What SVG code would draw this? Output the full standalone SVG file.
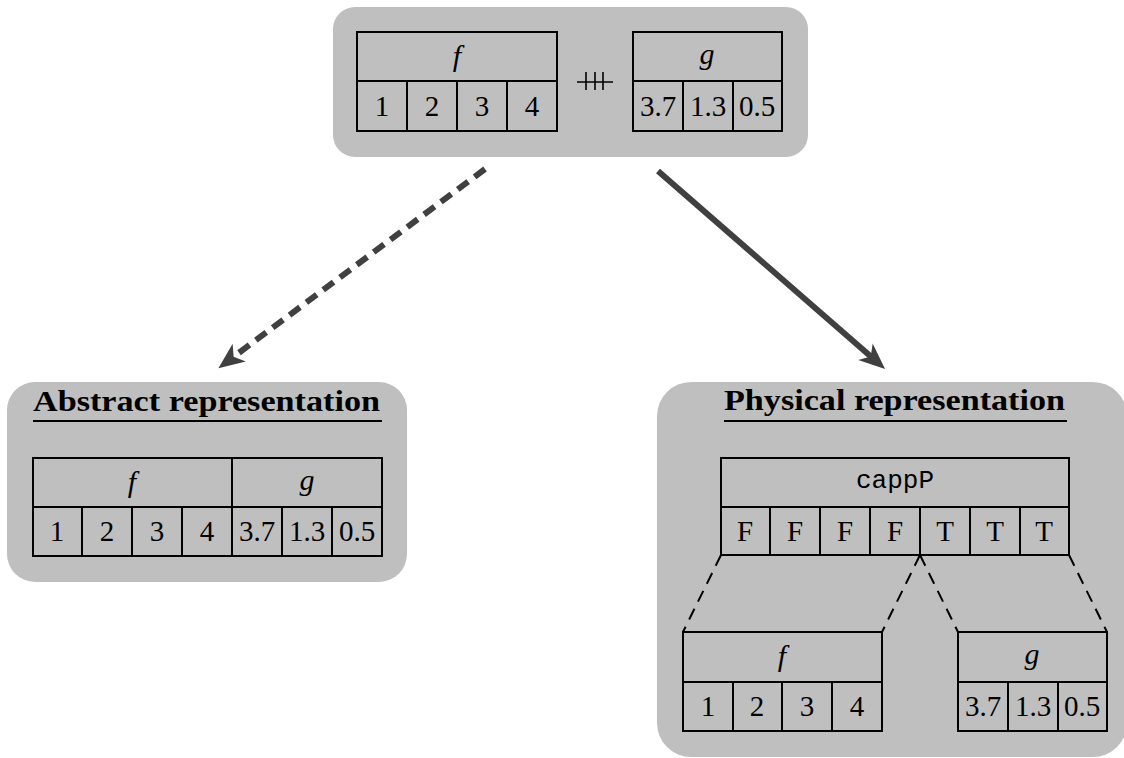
<svg xmlns="http://www.w3.org/2000/svg" width="1124" height="758" viewBox="0 0 1124 758">
<style>
.panel{fill:#bfbfbf;stroke:none}
.cell{fill:none;stroke:#000;stroke-width:2}
.t{font-family:"Liberation Serif","Times New Roman",serif;font-size:29px;fill:#000;text-anchor:middle}
.i{font-family:"Liberation Serif","Times New Roman",serif;font-style:italic;font-size:30px;fill:#000;text-anchor:middle}
.m{font-family:"Liberation Mono","Courier New",monospace;font-size:26px;fill:#000;text-anchor:middle}
.title{font-family:"Liberation Serif","Times New Roman",serif;font-weight:bold;font-size:30px;fill:#000}
.ul{stroke:#000;stroke-width:2}
.arrow{fill:none;stroke:#404040;stroke-width:6}
.dash{fill:none;stroke:#000;stroke-width:2;stroke-dasharray:12 8}
</style>
<defs>
<marker id="ah" markerUnits="userSpaceOnUse" orient="auto" overflow="visible" refX="0" refY="0" markerWidth="40" markerHeight="40">
<path d="M 12 0 L -14 -11 L -7 0 L -14 11 Z" fill="#404040"/>
</marker>
</defs>

<g id="concat">
<rect class="panel" x="333" y="7" width="475" height="150" rx="22"/>
<g id="concat-f">
<rect class="cell" x="357" y="32" width="200" height="99"/>
<line class="cell" x1="357" y1="81" x2="557" y2="81"/>
<line class="cell" x1="407" y1="81" x2="407" y2="131"/>
<line class="cell" x1="457" y1="81" x2="457" y2="131"/>
<line class="cell" x1="507" y1="81" x2="507" y2="131"/>
<text class="i" x="457" y="66">f</text>
<text class="t" x="382" y="116">1</text>
<text class="t" x="432" y="116">2</text>
<text class="t" x="482" y="116">3</text>
<text class="t" x="532" y="116">4</text>
</g>
<g id="concat-op" stroke="#000" stroke-width="1.6">
<line x1="577" y1="82" x2="613" y2="82"/>
<line x1="586" y1="72" x2="586" y2="90"/>
<line x1="595" y1="72" x2="595" y2="90"/>
<line x1="603" y1="72" x2="603" y2="90"/>
</g>
<g id="concat-g">
<rect class="cell" x="633" y="32" width="149" height="99"/>
<line class="cell" x1="633" y1="81" x2="782" y2="81"/>
<line class="cell" x1="683" y1="81" x2="683" y2="131"/>
<line class="cell" x1="733" y1="81" x2="733" y2="131"/>
<text class="i" x="707" y="64">g</text>
<text class="t" x="658" y="116">3.7</text>
<text class="t" x="708" y="116">1.3</text>
<text class="t" x="757" y="116">0.5</text>
</g>
</g>

<g id="abstract">
<rect class="panel" x="7" y="382" width="400" height="200" rx="28"/>
<text class="title" x="33" y="411" textLength="347" lengthAdjust="spacingAndGlyphs">Abstract representation</text>
<line class="ul" x1="33" y1="421" x2="382" y2="421"/>
<rect class="cell" x="33" y="458" width="349" height="98"/>
<line class="cell" x1="33" y1="507" x2="382" y2="507"/>
<line class="cell" x1="232" y1="458" x2="232" y2="556"/>
<line class="cell" x1="82" y1="507" x2="82" y2="556"/>
<line class="cell" x1="132" y1="507" x2="132" y2="556"/>
<line class="cell" x1="182" y1="507" x2="182" y2="556"/>
<line class="cell" x1="282" y1="507" x2="282" y2="556"/>
<line class="cell" x1="332" y1="507" x2="332" y2="556"/>
<text class="i" x="132" y="492">f</text>
<text class="i" x="307" y="490">g</text>
<text class="t" x="57" y="541">1</text>
<text class="t" x="107" y="541">2</text>
<text class="t" x="157" y="541">3</text>
<text class="t" x="207" y="541">4</text>
<text class="t" x="257" y="541">3.7</text>
<text class="t" x="307" y="541">1.3</text>
<text class="t" x="357" y="541">0.5</text>
</g>

<g id="physical">
<rect class="panel" x="657" y="382" width="470" height="375" rx="34"/>
<text class="title" x="724" y="410" textLength="341" lengthAdjust="spacingAndGlyphs">Physical representation</text>
<line class="ul" x1="724" y1="421" x2="1067" y2="421"/>
<g id="cappP">
<rect class="cell" x="721" y="458" width="348" height="97"/>
<line class="cell" x1="721" y1="507" x2="1069" y2="507"/>
<line class="cell" x1="770" y1="507" x2="770" y2="555"/>
<line class="cell" x1="820" y1="507" x2="820" y2="555"/>
<line class="cell" x1="870" y1="507" x2="870" y2="555"/>
<line class="cell" x1="920" y1="507" x2="920" y2="555"/>
<line class="cell" x1="970" y1="507" x2="970" y2="555"/>
<line class="cell" x1="1020" y1="507" x2="1020" y2="555"/>
<text class="m" x="895" y="488">cappP</text>
<text class="t" x="745" y="541">F</text>
<text class="t" x="795" y="541">F</text>
<text class="t" x="845" y="541">F</text>
<text class="t" x="895" y="541">F</text>
<text class="t" x="945" y="541">T</text>
<text class="t" x="995" y="541">T</text>
<text class="t" x="1044" y="541">T</text>
</g>
<g id="phys-f">
<rect class="cell" x="683" y="632" width="199" height="99"/>
<line class="cell" x1="683" y1="682" x2="882" y2="682"/>
<line class="cell" x1="733" y1="682" x2="733" y2="731"/>
<line class="cell" x1="782" y1="682" x2="782" y2="731"/>
<line class="cell" x1="832" y1="682" x2="832" y2="731"/>
<text class="i" x="782" y="666">f</text>
<text class="t" x="708" y="716">1</text>
<text class="t" x="757" y="716">2</text>
<text class="t" x="807" y="716">3</text>
<text class="t" x="857" y="716">4</text>
</g>
<g id="phys-g">
<rect class="cell" x="958" y="632" width="149" height="99"/>
<line class="cell" x1="958" y1="682" x2="1107" y2="682"/>
<line class="cell" x1="1008" y1="682" x2="1008" y2="731"/>
<line class="cell" x1="1058" y1="682" x2="1058" y2="731"/>
<text class="i" x="1032" y="664">g</text>
<text class="t" x="983" y="716">3.7</text>
<text class="t" x="1033" y="716">1.3</text>
<text class="t" x="1082" y="716">0.5</text>
</g>
</g>

<g id="connectors">
<line class="arrow" x1="485" y1="169" x2="228" y2="361" stroke-dasharray="13 8" marker-end="url(#ah)"/>
<line class="arrow" x1="658" y1="171" x2="876" y2="361" marker-end="url(#ah)"/>
<line class="dash" x1="721" y1="555" x2="683" y2="632"/>
<line class="dash" x1="920" y1="555" x2="882" y2="632"/>
<line class="dash" x1="920" y1="555" x2="958" y2="632"/>
<line class="dash" x1="1069" y1="555" x2="1107" y2="632"/>
</g>
</svg>
